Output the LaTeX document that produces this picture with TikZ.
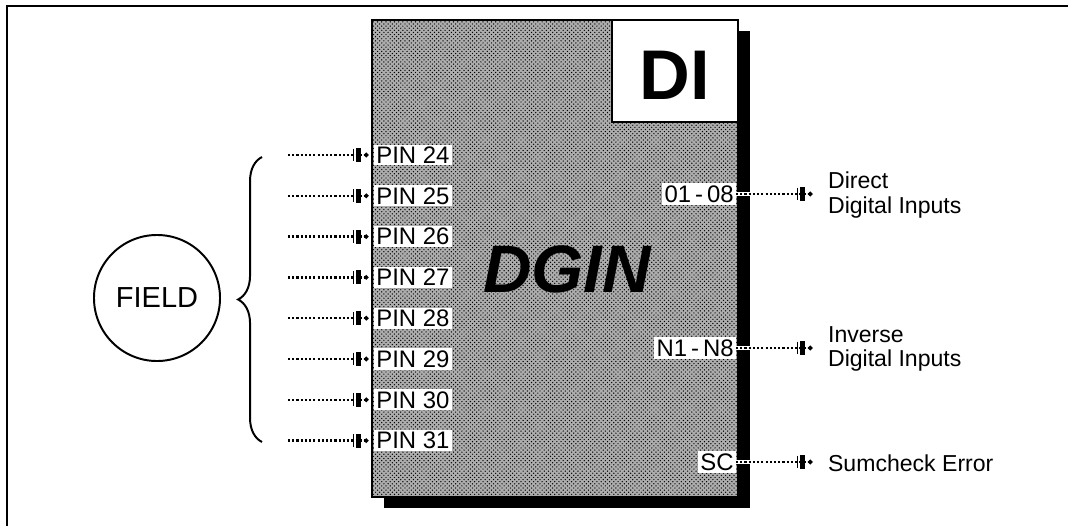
\documentclass[tikz,border=0pt]{standalone}
\usepackage{fontspec}
\setmainfont{Liberation Sans}
\usetikzlibrary{arrows.meta,shadows,patterns,decorations.pathreplacing}

\tikzset{
  block/.style={draw, line width=2pt, fill=black!32, minimum width=9.15cm, minimum height=11.925cm,
    drop shadow={shadow xshift=8.5pt, shadow yshift=-8pt, fill=black, opacity=1},
    postaction={pattern=crosshatch dots}},
  tagbox/.style={fill=white, inner sep=1.5pt, font=\fontsize{17}{19}\selectfont},
  sig/.style={line width=1.6pt, dash pattern=on 1.5pt off 1.5pt,
    -{Bar[width=9pt,line width=1pt,sep=1.2pt]Rectangle[length=3.8pt,width=10pt,sep=2.2pt]Circle[length=3pt]}},
  outtext/.style={align=left, inner sep=2pt, font=\fontsize{16.4}{17.5}\selectfont}
}

\begin{document}
\begin{tikzpicture}[x=0.025cm, y=-0.025cm]
  \useasboundingbox (0,0) rectangle (1068,526);
  % Marc
  \draw[line width=1.4pt] (7,526) -- (7,6) -- (1068,6);
  % Bloc DGIN
  \node[block] (dgin) at (555,258.5) {};
  \node[draw, fill=white, line width=2pt, anchor=north east, minimum width=3.15cm, minimum height=2.55cm,
        text height=1.45cm, font=\fontsize{50}{52}\selectfont\bfseries] (di) at (dgin.north east) {DI};
  \node[font=\fontsize{47.7}{50}\selectfont\bfseries\itshape] (name) at (567,269) {DGIN};
  % Entrades
  \foreach \n [count=\i from 0] in {24,...,31} {
    \node[tagbox, anchor=west] (p\n) at (374,{155+40.8*\i}) {PIN \n};
    \coordinate (f\n) at (288,{155+40.8*\i});
    \draw[sig, shorten >=4pt] (f\n) -- (p\n);
  }
  % Sortides
  \node[tagbox, anchor=east] (o1) at (736,194) {01\,-\,08};
  \node[tagbox, anchor=east] (o2) at (736,348) {N1\,-\,N8};
  \node[tagbox, anchor=east] (o3) at (736,462) {SC};
  \node[outtext, anchor=west] (t1) at (825,195) {Direct\\Digital Inputs};
  \node[outtext, anchor=west] (t2) at (825,349) {Inverse\\Digital Inputs};
  \node[outtext, anchor=west] (t3) at (825,463) {Sumcheck Error};
  \foreach \k in {1,2,3}
    \draw[sig, shorten >=9pt, preaction={draw=white, solid, line width=3pt}] (o\k.east) -- (o\k.east -| t\k.west);
  % Camp
  \node[circle, draw, line width=1.4pt, minimum size=3.15cm, font=\fontsize{20.6}{22}\selectfont] (field) at (157,298) {FIELD};
  \draw[line width=1.4pt, decorate, decoration={brace, amplitude=17pt}] (262,442) -- (262,157);
\end{tikzpicture}
\end{document}
